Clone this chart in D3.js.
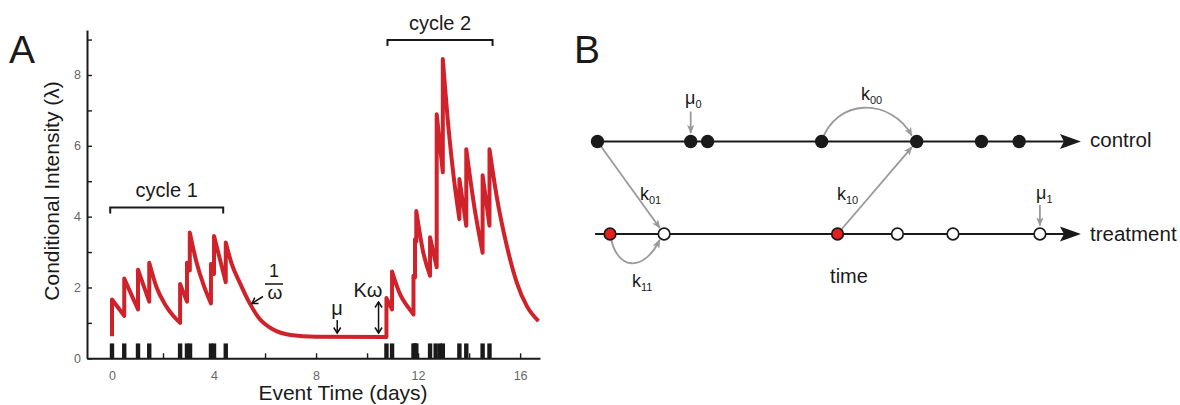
<!DOCTYPE html>
<html>
<head>
<meta charset="utf-8">
<script src="https://cdn.jsdelivr.net/npm/d3@7"></script>
<style>
body{margin:0;background:#fff;font-family:"Liberation Sans",Arial,Helvetica,sans-serif;}
svg text{fill:#1a1a1a;}
.axis text{fill:#666;font-size:12.5px;font-family:"Liberation Sans",Arial,sans-serif;}
.axis .domain{stroke:#1a1a1a;stroke-width:2px;}
.axis .tick line{stroke:#1a1a1a;stroke-width:1.4px;}
.sub{font-family:"Liberation Sans Narrow","Liberation Sans",Arial,sans-serif;}
</style>
</head>
<body>
<script>
// panel A : conditional intensity
var xTickValues = [0, 2, 4, 6, 8, 10, 12, 14, 16];
var xTickLabels = [0, 4, 8, 12, 16];
var yTickValues = [0, 1, 2, 3, 4, 5, 6, 7, 8, 9];
var yTickLabels = [0, 2, 4, 6, 8];

// event times (days), the rug under the curve
var eventTimes = [0.0, 0.48, 1.02, 1.46, 2.67, 2.94, 3.06, 3.88, 4.0, 4.46,
  10.76, 10.98, 11.82, 11.88, 11.93, 12.47, 12.69, 12.86, 12.97, 13.62, 13.89, 14.53, 14.8];

// intensity (time, lambda)
var curveT = [0, 0, 0.48, 0.48, 1.02, 1.02, 1.46, 1.46, 1.75, 2.1, 2.4, 2.67, 2.67,
  2.94, 2.94, 3.05, 3.05, 3.3, 3.6, 3.88, 3.88, 4.0, 4.0, 4.46, 4.46,
  4.7, 5.0, 5.4, 5.8, 6.3, 7.0, 8.0, 10.76, 10.76, 10.98, 10.98, 11.3, 11.6,
  11.82, 11.82, 11.88, 11.88, 11.93, 11.93, 12.2, 12.47, 12.47, 12.73, 12.73,
  12.97, 12.97, 13.2, 13.4, 13.62, 13.62, 13.89, 13.89, 14.2, 14.53, 14.53,
  14.8, 14.8, 15.08, 15.48, 15.87, 16.26, 16.72];
var curveLambda = [0.62, 1.66, 1.2, 2.25, 1.38, 2.5, 1.6, 2.7, 2.0, 1.5, 1.2, 1.0, 2.1,
  1.6, 2.7, 2.48, 3.55, 2.75, 2.05, 1.55, 2.66, 2.38, 3.45, 2.15, 3.27,
  2.65, 2.15, 1.55, 1.1, 0.82, 0.66, 0.61, 0.6, 1.7, 1.38, 2.45, 1.8, 1.45,
  1.24, 2.33, 2.28, 3.36, 3.3, 4.16, 3.0, 2.33, 3.42, 2.57, 6.89,
  5.25, 8.45, 6.45, 5.1, 3.93, 5.06, 3.74, 5.9, 4.3, 2.98, 5.17,
  3.74, 5.9, 4.58, 3.17, 2.14, 1.48, 1.05];

var cycleNames = ["cycle 1", "cycle 2"];
var cycleStart = [-0.07, 10.8];
var cycleEnd = [4.36, 14.92];

// panel B : two coupled processes
var controlTimes = [0.01, 1.94, 2.29, 4.65, 6.62, 7.96, 8.74];
var treatTimes = [0.27, 1.39, 4.98, 6.22, 7.37, 9.17];
var treatTriggered = [true, false, true, false, false, false];

var svg = d3.select("body").append("svg")
  .attr("width", 1180)
  .attr("height", 405);

var defs = svg.append("defs");
defs.append("marker").attr("id", "grayhead")
  .attr("viewBox", "0 -4 9 8").attr("refX", 8).attr("refY", 0)
  .attr("markerWidth", 9).attr("markerHeight", 8)
  .attr("markerUnits", "userSpaceOnUse").attr("orient", "auto")
  .append("path").attr("d", "M0,-3.6L9,0L0,3.6L2,0Z").attr("fill", "#9a9a9a");
defs.append("marker").attr("id", "blackhead")
  .attr("viewBox", "-1 -5 8 10").attr("refX", 5.5).attr("refY", 0)
  .attr("markerWidth", 8).attr("markerHeight", 10)
  .attr("markerUnits", "userSpaceOnUse").attr("orient", "auto-start-reverse")
  .append("path").attr("d", "M0,-3.5L5.5,0L0,3.5").attr("fill", "none")
  .attr("stroke", "#111").attr("stroke-width", 1.5);

drawPanelA();
drawPanelB();

function drawPanelA() {
  var x = d3.scaleLinear().domain([-0.98, 16.78]).range([87, 540]);
  var y = d3.scaleLinear().domain([0, 9.27]).range([358.3, 30]);
  var g = svg.append("g");

  g.append("text").attr("x", 9).attr("y", 63).style("font-size", "39px").text("A");

  g.append("g").attr("class", "axis")
    .attr("transform", "translate(0," + y(0) + ")")
    .call(d3.axisBottom(x).tickValues(xTickValues).tickSizeInner(-5).tickSizeOuter(0)
      .tickPadding(13)
      .tickFormat(function(d) { return xTickLabels.indexOf(d) > -1 ? d : ""; }));

  g.append("g").attr("class", "axis")
    .attr("transform", "translate(" + x.range()[0] + ",0)")
    .call(d3.axisLeft(y).tickValues(yTickValues).tickSizeInner(-5).tickSizeOuter(0)
      .tickPadding(6)
      .tickFormat(function(d) { return yTickLabels.indexOf(d) > -1 ? d : ""; }));

  g.append("text")
    .attr("transform", "translate(59,191) rotate(-90)")
    .attr("text-anchor", "middle")
    .style("font-size", "21px")
    .text("Conditional Intensity (λ)");

  g.append("text")
    .attr("x", 343).attr("y", 400)
    .attr("text-anchor", "middle")
    .style("font-size", "21px")
    .text("Event Time (days)");

  // rug of events
  g.selectAll("rect.rug")
    .data(eventTimes)
    .enter().append("rect")
    .attr("class", "rug")
    .attr("x", function(d) { return x(d) - 2.2; })
    .attr("width", 4.4)
    .attr("y", y(0.42))
    .attr("height", y(0) - y(0.42))
    .attr("fill", "#1a1a1a");

  // split the curve into decay runs (jumps are where time repeats),
  // smooth each run and join them into one path
  var pts = d3.zip(curveT, curveLambda);
  var runs = [[pts[0]]];
  for (var i = 1; i < pts.length; i++) {
    if (pts[i][0] === pts[i - 1][0]) runs.push([pts[i]]);
    else runs[runs.length - 1].push(pts[i]);
  }
  var line = d3.line()
    .x(function(d) { return x(d[0]); })
    .y(function(d) { return y(d[1]); })
    .curve(d3.curveMonotoneX);
  var dstr = runs.map(function(run, k) {
    var s = line(run);
    return k === 0 ? s : "L" + s.slice(1);
  }).join("");

  g.append("path")
    .attr("d", dstr)
    .attr("fill", "none")
    .attr("stroke", "#d0222a")
    .attr("stroke-width", 4)
    .attr("stroke-linejoin", "round");

  // cycle brackets
  var bracketLevel = [4.26, 8.99];
  cycleNames.forEach(function(name, i) {
    var yb = y(bracketLevel[i]);
    g.append("path")
      .attr("d", "M" + x(cycleStart[i]) + "," + (yb + 6) + "V" + yb + "H" + x(cycleEnd[i]) + "V" + (yb + 6))
      .attr("fill", "none").attr("stroke", "#1a1a1a").attr("stroke-width", 2);
    g.append("text")
      .attr("x", (x(cycleStart[i]) + x(cycleEnd[i])) / 2)
      .attr("y", yb - 10)
      .attr("text-anchor", "middle")
      .style("font-size", "20px")
      .text(name);
  });

  // 1 / omega
  g.append("text").attr("x", 274).attr("y", 277).attr("text-anchor", "middle")
    .style("font-size", "18px").text("1");
  g.append("line").attr("x1", 265).attr("x2", 283).attr("y1", 284).attr("y2", 284)
    .attr("stroke", "#111").attr("stroke-width", 1.5);
  g.append("text").attr("x", 275).attr("y", 299).attr("text-anchor", "middle")
    .style("font-size", "19px").text("ω");
  g.append("line").attr("x1", 263).attr("y1", 296.5).attr("x2", 252).attr("y2", 303.5)
    .attr("stroke", "#111").attr("stroke-width", 1.5).attr("marker-end", "url(#blackhead)");

  // mu
  g.append("text").attr("x", 337).attr("y", 315).attr("text-anchor", "middle")
    .style("font-size", "20px").text("μ");
  g.append("line").attr("x1", x(8.83)).attr("x2", x(8.83)).attr("y1", 320).attr("y2", 333)
    .attr("stroke", "#111").attr("stroke-width", 1.5).attr("marker-end", "url(#blackhead)");

  // K omega
  g.append("text").attr("x", 368).attr("y", 297).attr("text-anchor", "middle")
    .style("font-size", "20px").text("Kω");
  g.append("line").attr("x1", x(10.45)).attr("x2", x(10.45)).attr("y1", 302).attr("y2", 333)
    .attr("stroke", "#111").attr("stroke-width", 1.5)
    .attr("marker-start", "url(#blackhead)").attr("marker-end", "url(#blackhead)");
}

function drawPanelB() {
  var bx = d3.scaleLinear().domain([0, 10]).range([597, 1080]);
  var yc = 141.5, yt = 234;
  var r = 6.4;
  var g = svg.append("g");

  g.append("text").attr("x", 574).attr("y", 63).style("font-size", "39px").text("B");

  // time lines with arrow heads
  [[yc, bx(0)], [yt, bx(-0.04)]].forEach(function(d) {
    var tip = bx(10.02);
    g.append("line").attr("x1", d[1]).attr("x2", tip - 10).attr("y1", d[0]).attr("y2", d[0])
      .attr("stroke", "#1a1a1a").attr("stroke-width", 2);
    g.append("path")
      .attr("d", "M" + (tip - 21) + "," + (d[0] - 7.5) + "L" + tip + "," + d[0] + "L" + (tip - 21) + "," + (d[0] + 7.5) + "L" + (tip - 17) + "," + d[0] + "Z")
      .attr("fill", "#1a1a1a");
  });

  g.append("text").attr("x", 1090).attr("y", 147).style("font-size", "20.5px").text("control");
  g.append("text").attr("x", 1090).attr("y", 241).style("font-size", "20.5px").text("treatment");
  g.append("text").attr("x", 849).attr("y", 283).attr("text-anchor", "middle")
    .style("font-size", "20px").text("time");

  var gray = "#9a9a9a";
  function grayPath(d) {
    g.append("path").attr("d", d).attr("fill", "none").attr("stroke", gray)
      .attr("stroke-width", 1.8).attr("marker-end", "url(#grayhead)");
  }
  function toward(x1, y1, x2, y2, cut) {
    var dx = x2 - x1, dy = y2 - y1, l = Math.sqrt(dx * dx + dy * dy);
    return [x2 - dx / l * cut, y2 - dy / l * cut];
  }

  // k01 : control -> treatment
  var a = [bx(controlTimes[0]), yc], b = toward(a[0], a[1], bx(treatTimes[1]), yt, r + 1);
  grayPath("M" + a + "L" + b);
  // k10 : treatment -> control
  a = [bx(treatTimes[2]), yt]; b = toward(a[0], a[1], bx(controlTimes[4]), yc, r + 1);
  grayPath("M" + a + "L" + b);
  // k00 arc over the control line
  var c0 = bx(controlTimes[3]), c1 = bx(controlTimes[4]);
  grayPath("M" + c0 + "," + yc + "C" + (c0 + 14) + "," + (yc - 44) + " " + (c1 - 26) + "," + (yc - 44) + " " + (c1 - 5) + "," + (yc - 6));
  // k11 arc under the treatment line
  var t0 = bx(treatTimes[0]), t1 = bx(treatTimes[1]);
  grayPath("M" + t0 + "," + yt + "C" + (t0 + 6) + "," + (yt + 38) + " " + (t1 - 20) + "," + (yt + 38) + " " + (t1 - 4.5) + "," + (yt + 6));
  // background rates
  grayPath("M" + bx(controlTimes[1]) + "," + (yc - 30) + "V" + (yc - 8.5));
  grayPath("M" + bx(treatTimes[5]) + "," + (yt - 29) + "V" + (yt - 8.5));

  g.selectAll("circle.ctl")
    .data(controlTimes)
    .enter().append("circle")
    .attr("class", "ctl")
    .attr("cx", function(d) { return bx(d); })
    .attr("cy", yc)
    .attr("r", r + 0.3)
    .attr("fill", "#1a1a1a");

  g.selectAll("circle.trt")
    .data(treatTimes)
    .enter().append("circle")
    .attr("class", "trt")
    .attr("cx", function(d) { return bx(d); })
    .attr("cy", yt)
    .attr("r", r - 0.6)
    .attr("fill", function(d, i) { return treatTriggered[i] ? "#e3201e" : "#fff"; })
    .attr("stroke", "#1a1a1a")
    .attr("stroke-width", 1.7);

  // parameter labels
  var labels = [
    {base: "μ", sub: "0", x: 685, y: 104},
    {base: "k", sub: "00", x: 861, y: 100},
    {base: "k", sub: "01", x: 640, y: 200},
    {base: "k", sub: "10", x: 837, y: 200},
    {base: "k", sub: "11", x: 632, y: 287},
    {base: "μ", sub: "1", x: 1036, y: 199}
  ];
  labels.forEach(function(l) {
    var t = g.append("text").attr("x", l.x).attr("y", l.y).style("font-size", "18px");
    t.append("tspan").text(l.base);
    t.append("tspan").attr("class", "sub").attr("dy", 4).style("font-size", "11px").text(l.sub);
  });
}
</script>
</body>
</html>
